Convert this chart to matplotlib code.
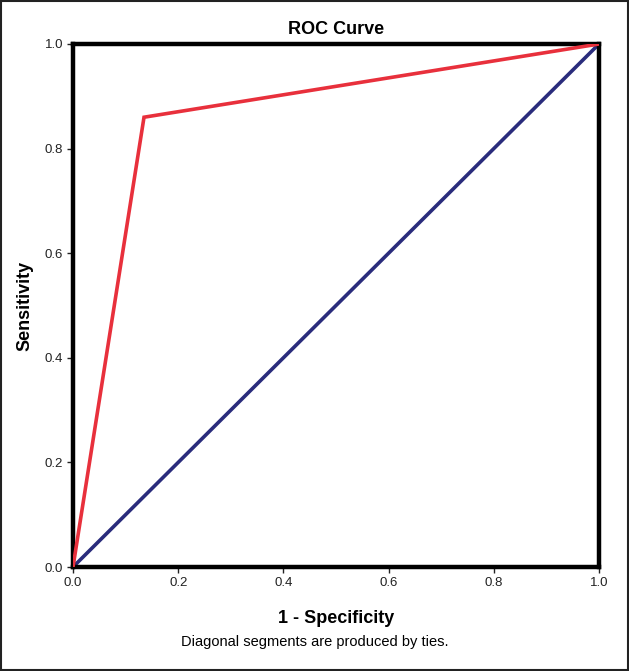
import matplotlib
matplotlib.use("Agg")
import matplotlib.pyplot as plt
from matplotlib.patches import Rectangle

plt.rcParams['font.family'] = ['Liberation Sans', 'DejaVu Sans']

fpr = [0.0, 0.135, 1.0]
tpr = [0.0, 0.86, 1.0]
ref_x = [0.0, 1.0]
ref_y = [0.0, 1.0]
ticks = [0.0, 0.2, 0.4, 0.6, 0.8, 1.0]
tick_labels = ["0.0", "0.2", "0.4", "0.6", "0.8", "1.0"]

fig = plt.figure(figsize=(6.29, 6.71), dpi=100)
ax = fig.add_axes([73/629, 1-567/671, 526/629, 523/671])

ax.plot(ref_x, ref_y, color='#2a2c7c', lw=2.6, solid_capstyle='round', zorder=2)
ax.plot(fpr, tpr, color='#e8303c', lw=2.6, solid_joinstyle='miter', zorder=3)

ax.set_xlim(0, 1)
ax.set_ylim(0, 1)
ax.set_xticks(ticks)
ax.set_xticklabels(tick_labels)
ax.set_yticks(ticks)
ax.set_yticklabels(tick_labels)
ax.tick_params(direction='out', length=4, width=1, labelsize=9.5, colors='#222222', pad=3)
for s in ax.spines.values():
    s.set_linewidth(3.2)
    s.set_color('black')

ax.set_title("ROC Curve", fontsize=13, fontweight='bold', pad=7)
ax.set_xlabel("1 - Specificity", fontsize=13, fontweight='bold', labelpad=15)
ax.set_ylabel("Sensitivity", fontsize=13, fontweight='bold', labelpad=8)
fig.text(0.5, 1-642/671, "Diagonal segments are produced by ties.", ha='center', va='center', fontsize=10.5)

fig.patches.append(Rectangle((0.002, 0.002), 0.996, 0.996, transform=fig.transFigure,
                             fill=False, edgecolor='#222222', lw=1.5))

fig.savefig("out.png", dpi=100)
